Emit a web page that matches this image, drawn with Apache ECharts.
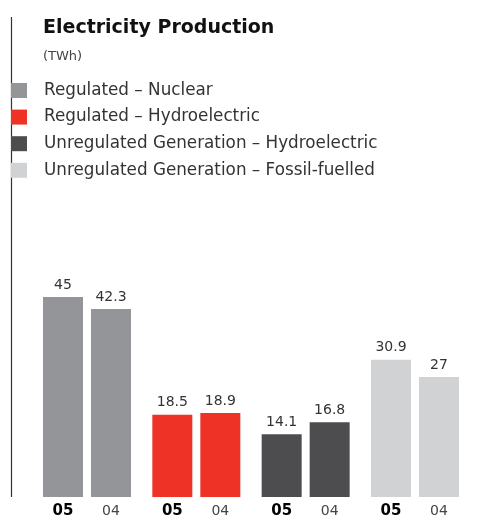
<!DOCTYPE html>
<html>
<head>
<meta charset="utf-8">
<script src="https://cdn.jsdelivr.net/npm/echarts@6/dist/echarts.min.js"></script>
<style>
  html, body { margin: 0; padding: 0; background: #fff; }
  #chart { width: 486px; height: 516px; }
</style>
</head>
<body>
<div id="chart"></div>
<script>
// Electricity production by segment, TWh
const categories = [
  'Regulated – Nuclear',
  'Regulated – Hydroelectric',
  'Unregulated Generation – Hydroelectric',
  'Unregulated Generation – Fossil-fuelled'
];
const years = ['05', '04'];
const values05 = [45, 18.5, 14.1, 30.9];
const values04 = [42.3, 18.9, 16.8, 27];
const colors = ['#939598', '#ee3326', '#4d4d4f', '#d1d2d4'];

const FONT = '"DejaVu Sans", Verdana, sans-serif';

function barSeries(name, values) {
  return {
    name: name,
    type: 'bar',
    barWidth: 40,
    barGap: '20%',
    data: values.map((v, i) => ({ value: v, itemStyle: { color: colors[i] } })),
    label: {
      show: true,
      position: 'top',
      distance: 5,
      fontFamily: FONT,
      fontSize: 14,
      color: '#333'
    },
    emphasis: { disabled: true }
  };
}

// empty series that only feed the legend swatches
const legendSeries = categories.map((c, i) => ({
  name: c,
  type: 'scatter',
  data: [],
  itemStyle: { color: colors[i], opacity: 1 }
}));

const chart = echarts.init(document.getElementById('chart'), null, { renderer: 'canvas' });
chart.setOption({
  animation: false,
  backgroundColor: '#fff',
  color: colors,
  title: {
    text: 'Electricity Production',
    subtext: '(TWh)',
    left: 43,
    top: 19,
    padding: 0,
    itemGap: 12,
    textStyle: { fontFamily: FONT, fontSize: 19, fontWeight: 'bold', color: '#111' },
    subtextStyle: { fontFamily: FONT, fontSize: 13, color: '#444' }
  },
  legend: {
    orient: 'vertical',
    left: 11,
    top: 82,
    padding: 0,
    itemWidth: 16,
    itemHeight: 15,
    itemGap: 9.6,
    icon: 'rect',
    selectedMode: false,
    data: categories,
    itemStyle: { opacity: 1 },
    textStyle: { fontFamily: FONT, fontSize: 16.8, lineHeight: 16, color: '#333', padding: [0, 0, 0, 12] }
  },
  grid: { left: 32.33, right: 16.33, top: 274.8, bottom: 19, outerBoundsMode: 'none', containLabel: false },
  xAxis: {
    type: 'category',
    data: categories,
    axisLine: { show: false },
    axisTick: { show: false },
    axisLabel: {
      margin: 7,
      interval: 0,
      formatter: () => `{y05|${years[0]}}{y04|${years[1]}}`,
      rich: {
        y05: { width: 48, align: 'center', fontFamily: FONT, fontSize: 15, fontWeight: 'bold', color: '#000' },
        y04: { width: 48, align: 'center', fontFamily: FONT, fontSize: 14, color: '#444' }
      }
    }
  },
  yAxis: {
    type: 'value',
    min: 0,
    max: 50,
    show: false,
    splitLine: { show: false }
  },
  graphic: [{
    type: 'line',
    shape: { x1: 11.5, y1: 17, x2: 11.5, y2: 497 },
    style: { stroke: '#333', lineWidth: 1.2 }
  }],
  series: [barSeries(years[0], values05), barSeries(years[1], values04)].concat(legendSeries)
});
</script>
</body>
</html>
